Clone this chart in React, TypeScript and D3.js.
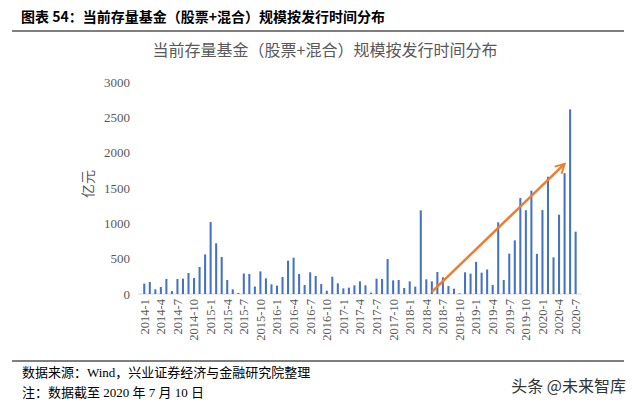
import { useRef, useEffect } from "react";
import * as d3 from "d3";

// monthly issue scale of existing funds (亿元), 2014-1 .. 2020-7
const years = [2014, 2015, 2016, 2017, 2018, 2019, 2020];
const values2014 = [147, 170, 66, 100, 212, 42, 212, 217, 297, 226, 382, 561];
const values2015 = [1018, 717, 524, 198, 66, 14, 290, 283, 106, 320, 222, 137];
const values2016 = [118, 241, 472, 514, 283, 127, 307, 255, 141, 47, 245, 151];
const values2017 = [80, 90, 123, 179, 123, 19, 217, 212, 495, 193, 198, 85];
const values2018 = [179, 104, 1184, 207, 179, 311, 236, 113, 75, 10, 307, 288];
const values2019 = [455, 302, 347, 127, 1014, 198, 571, 759, 1358, 1186, 1462, 568];
const values2020 = [1188, 1660, 519, 1122, 1710, 2612, 882];
const values = [
  ...values2014,
  ...values2015,
  ...values2016,
  ...values2017,
  ...values2018,
  ...values2019,
  ...values2020,
];
const months: string[] = [];
years.forEach((y) => {
  for (let m = 1; m <= 12; m++) {
    if (months.length < values.length) months.push(`${y}-${m}`);
  }
});
const tickLabels = months.filter((d) => (+d.split("-")[1] - 1) % 3 === 0);
const yTicks = [0, 500, 1000, 1500, 2000, 2500, 3000];
// trend arrow, in data terms
const arrowFrom = { month: "2018-5", value: 30 };
const arrowTo = { month: "2020-5", value: 1840 };

const header = "图表 54：当前存量基金（股票+混合）规模按发行时间分布";
const title = "当前存量基金（股票+混合）规模按发行时间分布";
const source = "数据来源：Wind，兴业证券经济与金融研究院整理";
const note = "注：数据截至 2020 年 7 月 10 日";
const watermark = "头条 @未来智库";

const serif = "'Liberation Serif', 'Noto Sans CJK SC', serif";
const cjk = "'Noto Sans CJK SC', sans-serif";

const App = () => {
  const svgRef = useRef<SVGSVGElement>(null);

  useEffect(() => {
    const svg = d3.select(svgRef.current);
    svg.selectAll("*").remove();

    const x = d3
      .scaleBand()
      .domain(months)
      .range([141.5, 578.4])
      .paddingInner(0.63)
      .paddingOuter(0.315);
    const y = d3.scaleLinear().domain([0, 3000]).range([294, 82]);

    // header
    svg
      .append("text")
      .attr("x", 21)
      .attr("y", 22)
      .attr("font-family", cjk)
      .attr("font-weight", "bold")
      .attr("font-size", 14)
      .attr("fill", "#000")
      .text(header);
    svg
      .append("line")
      .attr("x1", 12)
      .attr("x2", 624)
      .attr("y1", 31)
      .attr("y2", 31)
      .attr("stroke", "#555")
      .attr("stroke-width", 1.5);

    // chart title
    svg
      .append("text")
      .attr("x", 325)
      .attr("y", 56)
      .attr("text-anchor", "middle")
      .attr("font-family", cjk)
      .attr("font-size", 16)
      .attr("fill", "#595959")
      .text(title);

    // y axis labels
    svg
      .append("g")
      .selectAll("text")
      .data(yTicks)
      .join("text")
      .attr("x", 130)
      .attr("y", (d) => y(d))
      .attr("dy", "0.35em")
      .attr("text-anchor", "end")
      .attr("font-family", serif)
      .attr("font-size", 13)
      .attr("fill", "#595959")
      .text((d) => d);

    svg
      .append("text")
      .attr("transform", "translate(93,184) rotate(-90)")
      .attr("text-anchor", "middle")
      .attr("font-family", cjk)
      .attr("font-size", 14)
      .attr("fill", "#595959")
      .text("亿元");

    // baseline
    svg
      .append("line")
      .attr("x1", 138)
      .attr("x2", 582)
      .attr("y1", y(0))
      .attr("y2", y(0))
      .attr("stroke", "#d9d9d9")
      .attr("stroke-width", 1);

    // bars
    svg
      .append("g")
      .selectAll("rect")
      .data(values)
      .join("rect")
      .attr("x", (d, i) => x(months[i])!)
      .attr("y", (d) => y(d))
      .attr("width", x.bandwidth())
      .attr("height", (d) => y(0) - y(d))
      .attr("fill", "#4472C4");

    // x labels
    svg
      .append("g")
      .selectAll("text")
      .data(tickLabels)
      .join("text")
      .attr(
        "transform",
        (d) => `translate(${x(d)! + x.bandwidth() / 2},299) rotate(-90)`
      )
      .attr("dy", "0.35em")
      .attr("text-anchor", "end")
      .attr("font-family", serif)
      .attr("font-size", 12.5)
      .attr("fill", "#595959")
      .text((d) => d);

    // arrow
    svg
      .append("defs")
      .append("marker")
      .attr("id", "head")
      .attr("viewBox", "0 0 12 12")
      .attr("refX", 10)
      .attr("refY", 6)
      .attr("markerWidth", 12)
      .attr("markerHeight", 12)
      .attr("markerUnits", "userSpaceOnUse")
      .attr("orient", "auto")
      .append("path")
      .attr("d", "M1,1 L10,6 L1,11")
      .attr("fill", "none")
      .attr("stroke", "#ED7D31")
      .attr("stroke-width", 2);
    svg
      .append("line")
      .attr("x1", x(arrowFrom.month)! + x.bandwidth() / 2)
      .attr("y1", y(arrowFrom.value))
      .attr("x2", x(arrowTo.month)! + x.bandwidth() / 2)
      .attr("y2", y(arrowTo.value))
      .attr("stroke", "#ED7D31")
      .attr("stroke-width", 2.5)
      .attr("marker-end", "url(#head)");

    // footer
    svg
      .append("line")
      .attr("x1", 12)
      .attr("x2", 624)
      .attr("y1", 361)
      .attr("y2", 361)
      .attr("stroke", "#555")
      .attr("stroke-width", 1.5);
    svg
      .append("text")
      .attr("x", 22)
      .attr("y", 377)
      .attr("font-family", serif)
      .attr("font-size", 13)
      .attr("fill", "#000")
      .text(source);
    svg
      .append("text")
      .attr("x", 22)
      .attr("y", 397)
      .attr("font-family", serif)
      .attr("font-size", 13)
      .attr("fill", "#000")
      .text(note);
    svg
      .append("text")
      .attr("x", 626)
      .attr("y", 392)
      .attr("text-anchor", "end")
      .attr("font-family", cjk)
      .attr("font-size", 16)
      .attr("fill", "#333")
      .text(watermark);
  }, []);

  return (
    <svg
      ref={svgRef}
      width={640}
      height={408}
      style={{ position: "absolute", left: 0, top: 0, background: "#fff" }}
    ></svg>
  );
};

export default App;
